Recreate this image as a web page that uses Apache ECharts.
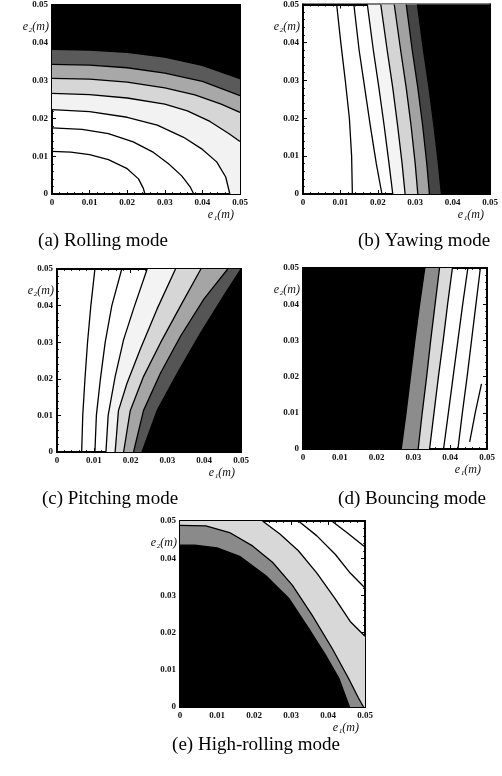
<!DOCTYPE html>
<html>
<head>
<meta charset="utf-8">
<script src="https://cdn.jsdelivr.net/npm/echarts@6/dist/echarts.min.js"></script>
<style>
  html, body { margin: 0; padding: 0; background: #fff; }
  #main { width: 502px; height: 776px; }
</style>
</head>
<body>
<div id="main"></div>
<script>
// axis range of every panel (m)
const axisMin = 0;
const axisMax = 0.05;
const axisStep = 0.01;

const captions = ['(a) Rolling mode', '(b) Yawing mode', '(c) Pitching mode', '(d) Bouncing mode', '(e) High-rolling mode'];

// (a) Rolling mode - contours from the e2 axis round to the e1 axis / right edge
const rollLines = [
  [[0, 0.0113], [0.005, 0.0111], [0.010, 0.0104], [0.015, 0.0091], [0.020, 0.0067], [0.023, 0.0040], [0.0243, 0.0015], [0.0247, 0]],
  [[0, 0.0175], [0.008, 0.0171], [0.015, 0.0160], [0.0216, 0.0138], [0.027, 0.0110], [0.031, 0.0080], [0.0345, 0.0048], [0.0368, 0.0018], [0.0377, 0]],
  [[0, 0.0223], [0.010, 0.0218], [0.020, 0.0203], [0.028, 0.0182], [0.035, 0.0150], [0.040, 0.0118], [0.0438, 0.0085], [0.0462, 0.0045], [0.0473, 0]],
  [[0, 0.0266], [0.010, 0.0263], [0.020, 0.0254], [0.030, 0.0238], [0.036, 0.0220], [0.042, 0.0192], [0.047, 0.0160], [0.050, 0.0139]],
  [[0, 0.0306], [0.010, 0.0304], [0.020, 0.0296], [0.030, 0.0281], [0.038, 0.0262], [0.045, 0.0238], [0.050, 0.0216]],
  [[0, 0.0343], [0.010, 0.0341], [0.020, 0.0334], [0.030, 0.0320], [0.040, 0.0298], [0.050, 0.0260]],
  [[0, 0.0383], [0.010, 0.0381], [0.020, 0.0375], [0.030, 0.0362], [0.040, 0.0340], [0.050, 0.0305]]
];
const rollShades = ['', '', '#f2f2f2', '#d6d6d6', '#a8a8a8', '#5a5a5a', '#000000'];

// (b) Yawing mode - contours bottom to top
const yawLines = [
  [[0.0132, 0], [0.0130, 0.010], [0.0124, 0.020], [0.0113, 0.030], [0.0101, 0.040], [0.0090, 0.050]],
  [[0.0211, 0], [0.0196, 0.008], [0.0180, 0.018], [0.0165, 0.028], [0.0150, 0.038], [0.0136, 0.050]],
  [[0.0240, 0], [0.0230, 0.008], [0.0217, 0.018], [0.0203, 0.028], [0.0188, 0.038], [0.0172, 0.050]],
  [[0.0273, 0], [0.0265, 0.008], [0.0253, 0.018], [0.0240, 0.028], [0.0225, 0.038], [0.0208, 0.050]],
  [[0.0307, 0], [0.0300, 0.008], [0.0289, 0.018], [0.0276, 0.028], [0.0261, 0.038], [0.0244, 0.050]],
  [[0.0338, 0], [0.0331, 0.008], [0.0320, 0.018], [0.0307, 0.028], [0.0292, 0.038], [0.0276, 0.050]],
  [[0.0370, 0], [0.0362, 0.008], [0.0350, 0.018], [0.0337, 0.028], [0.0322, 0.038], [0.0306, 0.050]]
];
const yawShades = ['', '', '#f4f4f4', '#d4d4d4', '#a2a2a2', '#454545', '#000000'];

// (c) Pitching mode
const pitchLines = [
  [[0.0067, 0], [0.0070, 0.010], [0.0076, 0.020], [0.0083, 0.030], [0.0092, 0.040], [0.0103, 0.050]],
  [[0.0103, 0], [0.0107, 0.010], [0.0118, 0.020], [0.0131, 0.030], [0.0149, 0.040], [0.0176, 0.050]],
  [[0.0133, 0], [0.0139, 0.010], [0.0158, 0.0206], [0.0181, 0.0307], [0.0208, 0.0391], [0.0245, 0.050]],
  [[0.0158, 0], [0.0167, 0.0113], [0.0190, 0.0187], [0.0226, 0.0280], [0.0272, 0.0391], [0.0322, 0.050]],
  [[0.0181, 0], [0.0199, 0.0113], [0.0235, 0.0206], [0.0281, 0.0298], [0.0336, 0.0400], [0.0391, 0.050]],
  [[0.0208, 0], [0.0235, 0.0113], [0.0281, 0.0215], [0.0336, 0.0317], [0.0400, 0.0419], [0.0464, 0.050]],
  [[0.0231, 0], [0.0272, 0.0113], [0.0327, 0.0215], [0.0391, 0.0326], [0.0454, 0.0428], [0.0500, 0.050]]
];
const pitchShades = ['', '', '#f3f3f3', '#d6d6d6', '#a5a5a5', '#555555', '#000000'];

// (d) Bouncing mode
const bounceLines = [
  [[0.0267, 0], [0.0280, 0.010], [0.0292, 0.020], [0.0304, 0.030], [0.0317, 0.040], [0.0331, 0.050]],
  [[0.0313, 0], [0.0324, 0.010], [0.0336, 0.020], [0.0347, 0.030], [0.0359, 0.040], [0.0371, 0.050]],
  [[0.0344, 0], [0.0356, 0.010], [0.0368, 0.020], [0.0381, 0.030], [0.0393, 0.040], [0.0406, 0.050]],
  [[0.0382, 0], [0.0395, 0.010], [0.0408, 0.020], [0.0421, 0.030], [0.0434, 0.040], [0.0448, 0.050]],
  [[0.0421, 0], [0.0433, 0.010], [0.0446, 0.020], [0.0458, 0.030], [0.0470, 0.040], [0.0482, 0.050]],
  [[0.0453, 0.002], [0.0468, 0.010], [0.0485, 0.018]]
];
const bounceShades = ['#000000', '#8c8c8c', '#dadada', '', '', ''];

// (e) High-rolling mode
const highLines = [
  [[0, 0.0435], [0.004, 0.0435], [0.010, 0.0428], [0.0161, 0.0405], [0.0232, 0.0353], [0.0295, 0.0291], [0.0348, 0.0211], [0.0393, 0.0140], [0.0429, 0.0078], [0.0458, 0]],
  [[0, 0.0488], [0.007, 0.0487], [0.0134, 0.0469], [0.0196, 0.0433], [0.025, 0.0389], [0.0304, 0.0327], [0.0357, 0.0247], [0.0411, 0.0158], [0.0455, 0.0078], [0.0482, 0.0025], [0.0496, 0]],
  [[0.0223, 0.05], [0.027, 0.0465], [0.032, 0.042], [0.037, 0.036], [0.042, 0.029], [0.046, 0.023], [0.05, 0.019]],
  [[0.032, 0.05], [0.037, 0.046], [0.042, 0.041], [0.046, 0.036], [0.05, 0.032]],
  [[0.041, 0.05], [0.045, 0.047], [0.05, 0.043]]
];
const highShades = ['#000000', '#8a8a8a', '#d8d8d8', '', ''];

// which corners close the shaded side of each contour
const panels = [
  { lines: rollLines, shades: rollShades, corners: [[0.05, 0], [0.05, 0.05], [0, 0.05]] },
  { lines: yawLines, shades: yawShades, corners: [[0.05, 0.05], [0.05, 0]] },
  { lines: pitchLines, shades: pitchShades, corners: [[0.05, 0.05], [0.05, 0]] },
  { lines: bounceLines, shades: bounceShades, corners: [[0, 0.05], [0, 0]] },
  { lines: highLines, shades: highShades, corners: [[0.05, 0], [0, 0], [0, 0.05]] }
];

const boxes = [
  { left: 52, top: 5, width: 188, height: 189 },
  { left: 303, top: 4, width: 187, height: 190 },
  { left: 57, top: 269, width: 184, height: 183 },
  { left: 303, top: 268, width: 184, height: 181 },
  { left: 180, top: 521, width: 185, height: 186 }
];
const captionPos = [[103, 241], [424, 241], [110, 499], [412, 499], [256, 745]];

const serif = '"Liberation Serif", "DejaVu Serif", serif';

function lum(hex) {
  const v = parseInt(hex.slice(1), 16);
  return ((v >> 16) & 255) + ((v >> 8) & 255) + (v & 255);
}

var myChart = echarts.init(document.getElementById('main'), null, { renderer: 'canvas' });

const grid = [], xAxis = [], yAxis = [], series = [];
boxes.forEach((b, k) => {
  grid.push(Object.assign({ show: true, borderColor: '#000', borderWidth: 2, backgroundColor: '#fff' }, b));
  const base = {
    type: 'value', gridIndex: k, min: axisMin, max: axisMax, interval: axisStep,
    splitLine: { show: false },
    axisLine: { show: true, onZero: false, lineStyle: { color: '#000', width: 2 } },
    axisTick: { show: true, inside: true, length: 4, lineStyle: { color: '#000', width: 1 } },
    minorTick: { show: true, splitNumber: 5, length: 2, lineStyle: { color: '#000', width: 0.8 } }
  };
  const lab = { color: '#111', fontFamily: serif, fontSize: 9, fontWeight: 'bold', margin: 4 };
  xAxis.push(Object.assign({}, base, {
    position: 'bottom',
    axisLabel: lab,
    name: 'e\u2081(m)', nameLocation: 'end', nameGap: -6,
    nameTextStyle: { fontFamily: serif, fontStyle: 'italic', fontSize: 12, color: '#111', align: 'right', verticalAlign: 'top', padding: [15, 0, 0, 0] }
  }));
  yAxis.push(Object.assign({}, base, {
    position: 'left',
    axisLabel: lab,
    name: 'e\u2082(m)', nameLocation: 'end', nameGap: -22,
    nameTextStyle: { fontFamily: serif, fontStyle: 'italic', fontSize: 12, color: '#111', align: 'right', verticalAlign: 'middle', padding: [0, 3, 0, 0] }
  }));
});
// inner ticks on the top and right edges of the frames
boxes.forEach((b, k) => {
  const extra = {
    type: 'value', gridIndex: k, min: axisMin, max: axisMax, interval: axisStep,
    splitLine: { show: false }, axisLabel: { show: false },
    axisLine: { show: true, onZero: false, lineStyle: { color: '#000', width: 2 } },
    axisTick: { show: true, inside: true, length: 4, lineStyle: { color: '#000', width: 1 } },
    minorTick: { show: true, splitNumber: 5, length: 2, lineStyle: { color: '#000', width: 0.8 } }
  };
  xAxis.push(Object.assign({}, extra, { position: 'top' }));
  yAxis.push(Object.assign({}, extra, { position: 'right' }));
});

panels.forEach((p, k) => {
  const order = p.shades.map((c, i) => i).filter(i => p.shades[i])
    .sort((a, b) => lum(p.shades[b]) - lum(p.shades[a]));
  series.push({
    type: 'custom', xAxisIndex: k, yAxisIndex: k, silent: true, z: 1,
    data: order.map(i => [0, 0, i]),
    renderItem: function (params, api) {
      const i = api.value(2);
      const pts = p.lines[i].concat(p.corners).map(pt => api.coord(pt));
      return { type: 'polygon', shape: { points: pts }, style: { fill: p.shades[i], stroke: null } };
    }
  });
  p.lines.forEach(line => {
    series.push({
      type: 'line', xAxisIndex: k, yAxisIndex: k, data: line, symbol: 'none', silent: true, z: 3,
      lineStyle: { color: '#000', width: 1.3 }
    });
  });
});

myChart.setOption({
  animation: false,
  grid, xAxis, yAxis, series,
  graphic: captions.map((t, i) => ({
    type: 'text', x: captionPos[i][0], y: captionPos[i][1],
    style: { text: t, fill: '#000', font: '19px ' + serif, align: 'center', verticalAlign: 'middle' }
  }))
});
</script>
</body>
</html>
